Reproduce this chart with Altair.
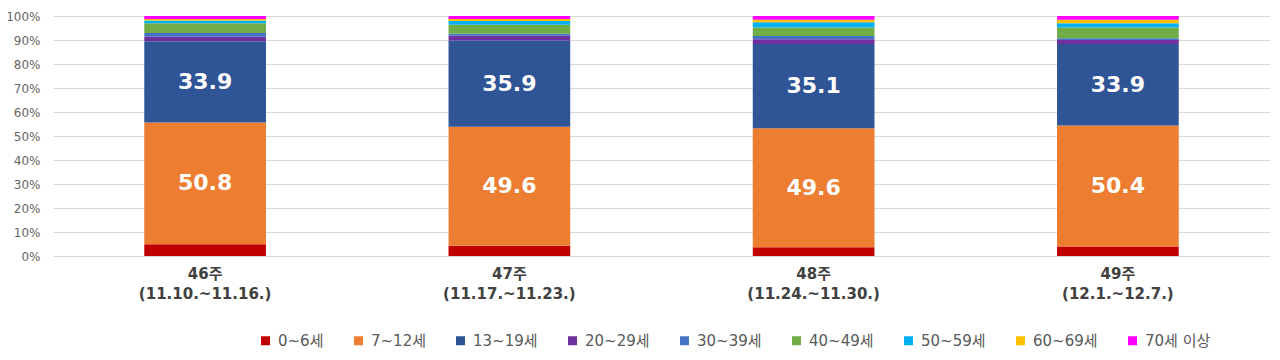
import altair as alt
import pandas as pd

weeks = ["46주|(11.10.~11.16.)", "47주|(11.17.~11.23.)", "48주|(11.24.~11.30.)", "49주|(12.1.~12.7.)"]
ages = ["0~6세", "7~12세", "13~19세", "20~29세", "30~39세", "40~49세", "50~59세", "60~69세", "70세 이상"]
colors = ["#C00000", "#ED7D31", "#2F5597", "#7030A0", "#4472C4", "#70AD47", "#00B0F0", "#FFC000", "#FF00FF"]

w46 = [4.9, 50.8, 33.9, 1.8, 1.6, 4.1, 1.1, 0.7, 1.2]
w47 = [4.3, 49.6, 35.9, 2.0, 0.8, 3.8, 1.5, 0.9, 1.2]
w48 = [3.6, 49.6, 35.1, 2.0, 1.4, 3.5, 2.2, 1.0, 1.6]
w49 = [4.0, 50.4, 33.9, 1.7, 0.7, 4.5, 1.8, 1.4, 1.6]
labeled = ["7~12세", "13~19세"]
ytick_values = [0, 0.1, 0.2, 0.3, 0.4, 0.5, 0.6, 0.7, 0.8, 0.9, 1.0]

rows = []
for w, vals in zip(weeks, [w46, w47, w48, w49]):
    for i, (a, v) in enumerate(zip(ages, vals)):
        rows.append(dict(week=w, age=a, value=v, ord=i,
                         label=f"{v:.1f}" if a in labeled else ""))
df = pd.DataFrame(rows)

FONT = "DejaVu Sans, Noto Sans CJK KR"

xaxis = alt.Axis(labelExpr="split(datum.label, '|')", labelAngle=0,
                 labelFont=FONT, labelFontWeight="bold", labelFontSize=15,
                 labelColor="#404040", labelLineHeight=20, labelPadding=10,
                 labelBaseline="top", ticks=False, domain=False, grid=False)
yaxis = alt.Axis(values=ytick_values, format=".0%", labelOverlap=False,
                 labelFont=FONT, labelFontSize=12, labelColor="#666666",
                 labelPadding=13, ticks=False, domain=False,
                 gridColor="#D9D9D9", gridWidth=1)
xscale = alt.Scale(paddingInner=0.6, paddingOuter=0.3)
yscale = alt.Scale(domain=[0, 1])

bars = alt.Chart(df).mark_bar().encode(
    x=alt.X("week:N", sort=weeks, title=None, scale=xscale, axis=xaxis),
    y=alt.Y("value:Q", stack="normalize", title=None, scale=yscale, axis=yaxis),
    color=alt.Color("age:N", sort=ages, scale=alt.Scale(domain=ages, range=colors),
                    legend=alt.Legend(title=None, orient="none", direction="horizontal",
                                      columns=9, legendX=205, legendY=317,
                                      symbolType="square", symbolSize=81,
                                      symbolStrokeWidth=0, labelFont=FONT,
                                      labelFontSize=15, labelColor="#595959",
                                      columnPadding=27, labelOffset=5)),
    order=alt.Order("ord:Q", sort="ascending"),
)

texts = alt.Chart(df).transform_stack(
    stack="value", groupby=["week"], sort=[alt.SortField("ord", order="ascending")],
    as_=["v0", "v1"], offset="normalize"
).transform_calculate(
    mid="(datum.v0 + datum.v1) / 2"
).transform_filter(
    "datum.label != ''"
).mark_text(font="DejaVu Sans", fontWeight="bold", fontSize=22, color="white").encode(
    x=alt.X("week:N", sort=weeks, title=None, scale=xscale, axis=xaxis),
    y=alt.Y("mid:Q", title=None, scale=yscale, axis=yaxis),
    text="label:N",
)

chart = alt.layer(bars, texts).properties(
    width=1217, height=240,
    background="white",
    autosize=alt.AutoSizeParams(type="none"),
    padding={"left": 45, "top": 8, "right": 0, "bottom": 95},
).configure_view(strokeWidth=0, stroke="transparent").configure_axis(domain=False, ticks=False)

chart.save("out.html", embed_options={"renderer": "svg", "actions": False})
